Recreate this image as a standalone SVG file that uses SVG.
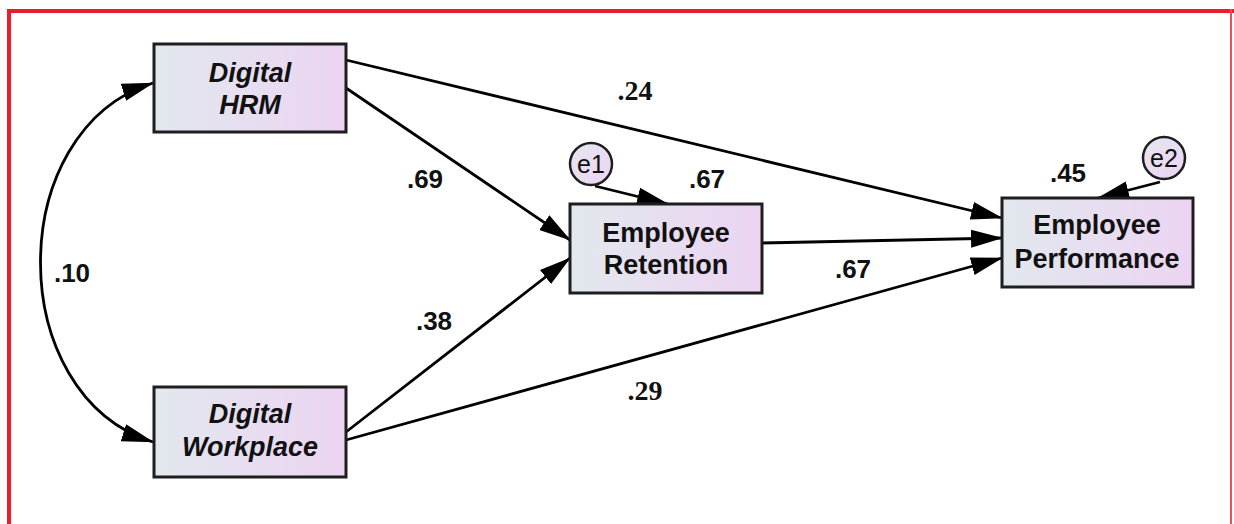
<svg xmlns="http://www.w3.org/2000/svg" width="1234" height="524" viewBox="0 0 1234 524">
<defs>
<linearGradient id="boxfill" x1="0" y1="0" x2="1" y2="0">
<stop offset="0" stop-color="#e2e8ee"/>
<stop offset="1" stop-color="#ecd4f2"/>
</linearGradient>
<linearGradient id="circfill" x1="0" y1="0" x2="1" y2="1">
<stop offset="0" stop-color="#e6e6f2"/>
<stop offset="1" stop-color="#ecd4f2"/>
</linearGradient>
<marker id="arr" markerUnits="userSpaceOnUse" markerWidth="32" markerHeight="22" viewBox="0 0 32 22" refX="31" refY="11" orient="auto-start-reverse">
<path d="M0,2 L32,11 L0,20 Z" fill="#000"/>
</marker>
<style>
.box{fill:url(#boxfill);stroke:#1e1e1e;stroke-width:3}
.circ{fill:url(#circfill);stroke:#1e1e1e;stroke-width:2.5}
.lbl{font-family:"Liberation Sans",Arial,sans-serif;font-size:27px;font-weight:bold;fill:#111;text-anchor:middle}
.ital{font-style:italic}
.etxt{font-family:"Liberation Sans",Arial,sans-serif;font-size:25px;fill:#111;text-anchor:middle}
.coef{font-family:"Liberation Sans",Arial,sans-serif;font-size:26px;font-weight:bold;fill:#111;text-anchor:middle}
.coefs{font-family:"Liberation Serif","Times New Roman",serif;font-size:28px;font-weight:bold;fill:#111;text-anchor:middle}
.con{fill:none;stroke:#000;stroke-width:2.8}
</style>
</defs>
<rect width="1234" height="524" fill="#fff"/>
<g id="frame">
<rect x="7" y="9" width="1227" height="4" fill="#ee1c2b"/>
<rect x="7" y="9" width="4" height="515" fill="#ee1c2b"/>
<rect x="1230" y="9" width="2" height="515" fill="#e8505a"/>
</g>
<g id="connectors">
<path class="con" d="M153,442 C3,395 3,130 153,83" marker-start="url(#arr)" marker-end="url(#arr)"/>
<line class="con" x1="346" y1="60" x2="1002" y2="218" marker-end="url(#arr)"/>
<line class="con" x1="346" y1="88" x2="570" y2="240" marker-end="url(#arr)"/>
<line class="con" x1="346" y1="432" x2="570" y2="258" marker-end="url(#arr)"/>
<line class="con" x1="346" y1="440" x2="1002" y2="258" marker-end="url(#arr)"/>
<line class="con" x1="762" y1="243" x2="1002" y2="238" marker-end="url(#arr)"/>
<line class="con" x1="595" y1="186" x2="668" y2="204" marker-end="url(#arr)"/>
<line class="con" x1="1160" y1="182" x2="1098" y2="198" marker-end="url(#arr)"/>
</g>
<g id="digital-hrm">
<rect class="box" x="154" y="44" width="192" height="88"/>
<text class="lbl ital" x="250" y="82">Digital</text>
<text class="lbl ital" x="250" y="114">HRM</text>
</g>
<g id="digital-workplace">
<rect class="box" x="154" y="387" width="192" height="90"/>
<text class="lbl ital" x="250" y="423">Digital</text>
<text class="lbl ital" x="250" y="456">Workplace</text>
</g>
<g id="employee-retention">
<rect class="box" x="570" y="204" width="192" height="89"/>
<text class="lbl" x="666" y="242">Employee</text>
<text class="lbl" x="666" y="274">Retention</text>
</g>
<g id="employee-performance">
<rect class="box" x="1002" y="198" width="191" height="89"/>
<text class="lbl" x="1097" y="234">Employee</text>
<text class="lbl" x="1097" y="268">Performance</text>
</g>
<g id="e1">
<circle class="circ" cx="591" cy="164" r="21"/>
<text class="etxt" x="591" y="173">e1</text>
</g>
<g id="e2">
<circle class="circ" cx="1164" cy="158" r="21"/>
<text class="etxt" x="1164" y="167">e2</text>
</g>
<g id="labels">
<text class="coefs" x="635" y="100">.24</text>
<text class="coef" x="425" y="188">.69</text>
<text class="coef" x="707" y="188">.67</text>
<text class="coef" x="1068" y="182">.45</text>
<text class="coef" x="853" y="278">.67</text>
<text class="coef" x="434" y="330">.38</text>
<text class="coefs" x="645" y="400">.29</text>
<text class="coef" x="72" y="282">.10</text>
</g>
</svg>
